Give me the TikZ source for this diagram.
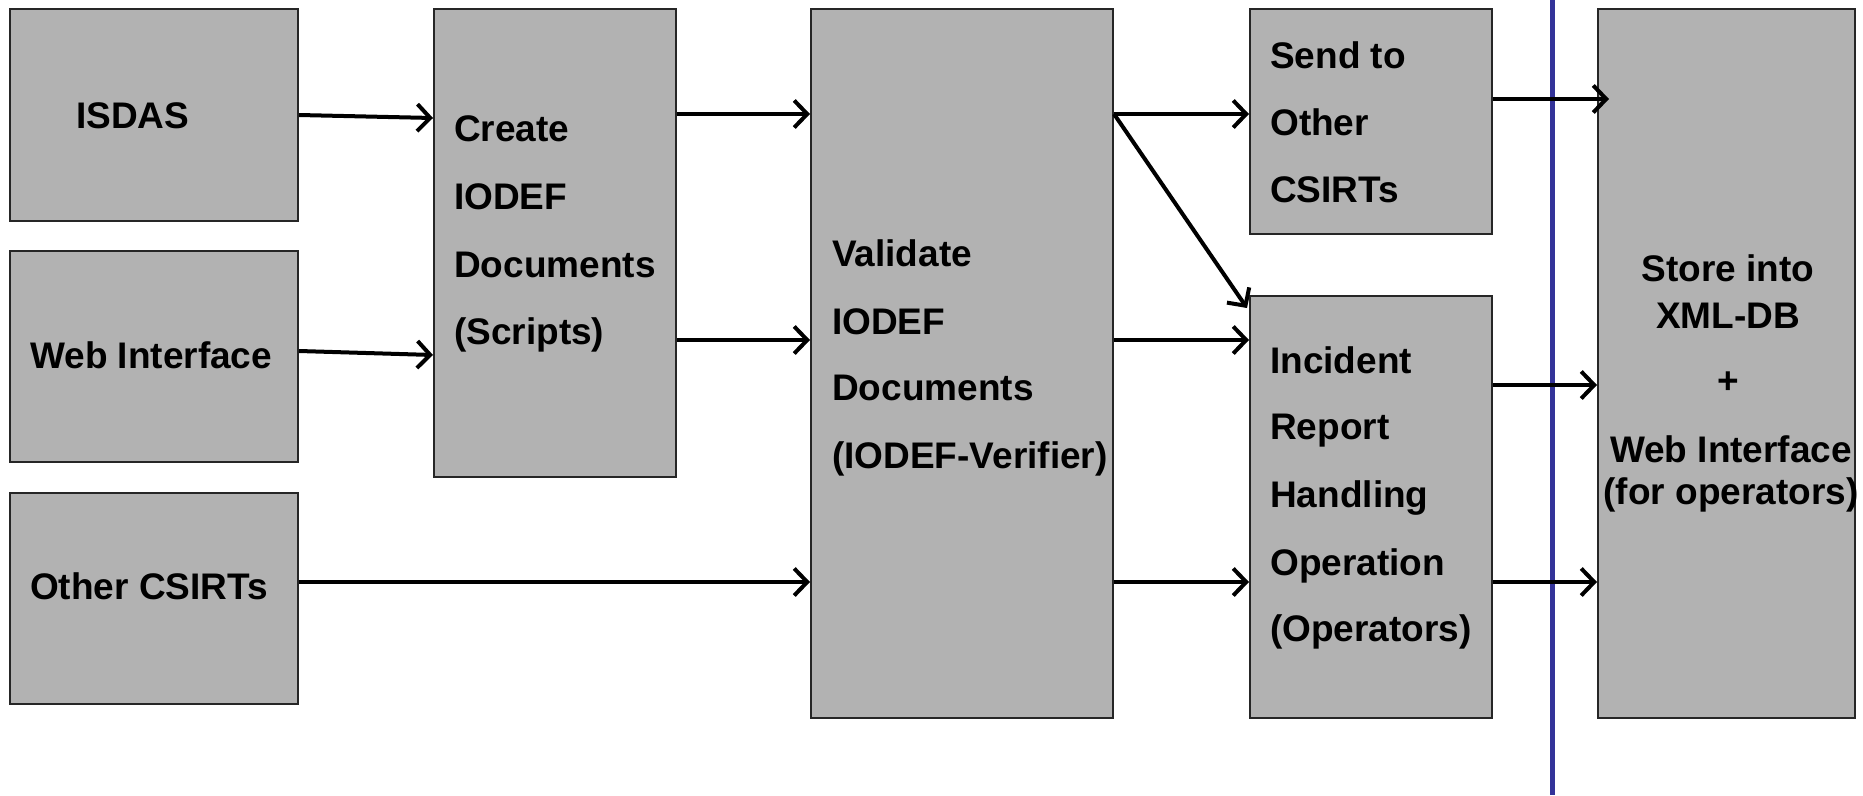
\documentclass[tikz,border=0pt]{standalone}
\usepackage{fontspec}
\setmainfont{Liberation Sans}
\usetikzlibrary{arrows.meta,calc}
\definecolor{boxgray}{RGB}{178,178,178}
\definecolor{divider}{RGB}{51,51,153}
\tikzset{
  stage/.style={draw=black!85, line width=2pt, fill=boxgray, inner sep=0pt},
  lbl/.style={anchor=base west, inner sep=0pt, font=\fontsize{37}{44}\selectfont\bfseries},
  clbl/.style={anchor=base, inner sep=0pt, font=\fontsize{37}{44}\selectfont\bfseries},
  flow/.style={line width=4pt, -{Straight Barb[length=13pt, width=27pt, line width=4pt]}}
}
\begin{document}
\begin{tikzpicture}[x=1pt, y=-1pt]
\useasboundingbox (0,0) rectangle (1863,795);

% process boxes
\node[stage, minimum width=288pt, minimum height=212pt] (isdas) at (154,115) {};
\node[stage, minimum width=288pt, minimum height=211pt] (web) at (154,356.5) {};
\node[stage, minimum width=288pt, minimum height=211pt] (other) at (154,598.5) {};
\node[stage, minimum width=242pt, minimum height=468pt] (create) at (555,243) {};
\node[stage, minimum width=302pt, minimum height=709pt] (validate) at (962,363.5) {};
\node[stage, minimum width=242pt, minimum height=225pt] (send) at (1371,121.5) {};
\node[stage, minimum width=242pt, minimum height=422pt] (incident) at (1371,507) {};
\node[stage, minimum width=257pt, minimum height=709pt] (store) at (1726.5,363.5) {};

% vertical separator
\coordinate (sepTop) at (1552,0);
\coordinate (sepBot) at (1552,795);
\draw[divider, line width=5pt] (sepTop) -- (sepBot);

% labels
\node[lbl] (tIsdas) at (76,128) {ISDAS};
\node[lbl] (tWeb) at (30,368) {Web Interface};
\node[lbl] (tOther) at (30,599) {Other CSIRTs};

\node[lbl] (tC1) at (454,141) {Create};
\node[lbl] (tC2) at (454,209) {IODEF};
\node[lbl] (tC3) at (454,277) {Documents};
\node[lbl] (tC4) at (454,344) {(Scripts)};

\node[lbl] (tV1) at (832,266) {Validate};
\node[lbl] (tV2) at (832,334) {IODEF};
\node[lbl] (tV3) at (832,400) {Documents};
\node[lbl] (tV4) at (832,468) {(IODEF-Verifier)};

\node[lbl] (tS1) at (1270,68) {Send to};
\node[lbl] (tS2) at (1270,135) {Other};
\node[lbl] (tS3) at (1270,202) {CSIRTs};

\node[lbl] (tI1) at (1270,373) {Incident};
\node[lbl] (tI2) at (1270,439) {Report};
\node[lbl] (tI3) at (1270,507) {Handling};
\node[lbl] (tI4) at (1270,575) {Operation};
\node[lbl] (tI5) at (1270,641) {(Operators)};

\node[clbl] (tD1) at (1728,281) {Store into};
\node[clbl] (tD2) at (1728,328) {XML-DB};
\node[clbl] (tD3) at (1728,393) {+};
\node[clbl] (tD4) at (1731,462) {Web Interface};
\node[clbl] (tD5) at (1731,504) {(for operators)};

% flows
\draw[flow] (isdas.east) -- ($(create.north west)+(0,110)$);
\draw[flow] ($(web.north east)+(0,101)$) -- ($(create.north west)+(0,347)$);
\draw[flow] ($(create.north east)+(0,106)$) -- ($(validate.north west)+(0,106)$);
\draw[flow] ($(create.north east)+(0,332)$) -- ($(validate.north west)+(0,332)$);
\draw[flow] ($(other.north east)+(0,90)$) -- ($(validate.north west)+(0,574)$);
\draw[flow] ($(validate.north east)+(0,106)$) -- ($(send.north west)+(0,106)$);
\draw[flow] ($(validate.north east)+(0,106)$) -- ($(incident.north west)+(-2,13)$);
\draw[flow] ($(validate.north east)+(0,332)$) -- ($(incident.north west)+(0,45)$);
\draw[flow] ($(validate.north east)+(0,574)$) -- ($(incident.north west)+(0,287)$);
\draw[flow] ($(send.north east)+(0,91)$) -- ($(store.north west)+(12,91)$);
\draw[flow] ($(incident.north east)+(0,90)$) -- ($(store.north west)+(0,377)$);
\draw[flow] ($(incident.north east)+(0,287)$) -- ($(store.north west)+(0,574)$);
\end{tikzpicture}
\end{document}
